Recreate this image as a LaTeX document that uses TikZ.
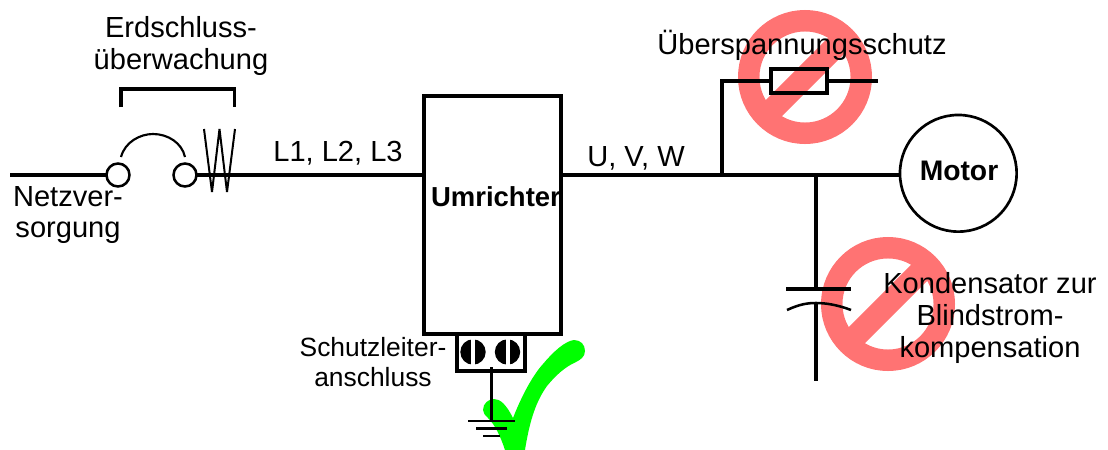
\documentclass[tikz,border=0pt]{standalone}
\usepackage{fontspec}
\setmainfont{Liberation Sans}
\definecolor{signred}{HTML}{FF7373}
\definecolor{okgreen}{HTML}{00FF00}
\tikzset{
  every node/.style={outer sep=0pt},
  wire/.style={line width=3pt,black},
  thinwire/.style={line width=1.5pt,black},
  lbl/.style={inner sep=0pt,align=center,text=black},
  terminal/.style={circle,draw,line width=1.9pt,minimum size=17.25pt,inner sep=0pt,fill=white},
  signring/.style={circle,draw=signred,line width=16.1pt,minimum size=84.4pt,inner sep=0pt},
  signbar/.style={draw=signred,line width=17pt},
  boxed/.style={draw,line width=3pt,inner sep=0pt},
}
\begin{document}
\begin{tikzpicture}[x=0.75pt,y=-0.75pt]
\useasboundingbox (0,0) rectangle (1108,450);
% prohibition signs
\node[signring] (sa) at (805,77) {};
\draw[signbar] (sa.225) -- (sa.45);
\node[signring] (sb) at (888,304) {};
\draw[signbar] (sb.225) -- (sb.45);
% check mark
\begin{scope}
\clip (0,0) rectangle (1108,450);
\fill[okgreen] (483,410) .. controls (483,403) and (489,399) .. (494,399)
  .. controls (500,399) and (506,404) .. (513,418)
  .. controls (522,395) and (533,375) .. (543,364)
  .. controls (553,352) and (565,341) .. (574,340)
  .. controls (581,340) and (585,345) .. (585,351)
  .. controls (585,357) and (580,360) .. (576,362)
  .. controls (565,367) and (556,375) .. (547,386)
  .. controls (537,400) and (530,418) .. (525,450)
  -- (505,450)
  .. controls (500,435) and (495,425) .. (488,418)
  .. controls (485,415) and (483,413) .. (483,410) -- cycle;
\end{scope}
% terminals and components
\coordinate (src) at (10,175);
\node[terminal] (ca) at (118,175) {};
\node[terminal] (cb) at (185,175) {};
\node[boxed,minimum width=102.75pt,minimum height=178.5pt,anchor=north west,fill=white] (inv) at (424,96) {};
\node[boxed,minimum width=51pt,minimum height=27.75pt,anchor=north west] (tb) at (457,334) {};
\node[boxed,minimum width=42pt,minimum height=17.5pt] (res) at (799,81) {};
\node[circle,draw,line width=2pt,minimum size=87.5pt,inner sep=0pt] (mot) at (958.3,173.3) {};
% main wiring
\draw[wire] (src) -- (ca);
\draw[wire] (cb) -- (cb -| inv.west);
\coordinate (ja) at (722,175);
\coordinate (jb) at (816,175);
\coordinate (topend) at (878,81);
\draw[wire] (inv.east |- ja) -- (ja) -- (jb) -- (mot.west |- jb);
\draw[line width=2.5pt] (ja) -- (ja |- res.west) -- (res.west);
\draw[line width=2.5pt] (res.east) -- (topend);
% capacitor
\coordinate (pa) at (816,289);
\coordinate (pb) at (816,303);
\coordinate (bot) at (816,381);
\coordinate (pal) at (786,289);
\coordinate (par) at (851,289);
\coordinate (arcl) at (787,310);
\coordinate (arcr) at (851,310);
\draw[line width=2.5pt] (jb) -- (pa);
\draw[line width=2.5pt] (pal) -- (par);
\draw[line width=2.5pt] (pb) -- (bot);
\draw[line width=1.9pt] (arcl) .. controls (800,304) and (808,303) .. (pb) .. controls (826,303) and (838,305) .. (arcr);
% monitor coil
\coordinate (za) at (204,129);
\coordinate (zb) at (212,192);
\coordinate (zc) at (219.5,129);
\coordinate (zd) at (227,192);
\coordinate (ze) at (235,129);
\draw[thinwire,line join=miter,miter limit=1] (za) -- (zb) -- (zc) -- (zd) -- (ze);
% contact arc
\coordinate (aa) at (121,157);
\coordinate (ab) at (185,157);
\draw[line width=1.6pt] (aa) .. controls (125,142) and (140,134) .. (153,134) .. controls (168,134) and (182,143) .. (ab);
% bracket
\coordinate (ba) at (121,107);
\coordinate (bb) at (121,89);
\coordinate (bc) at (234.5,89);
\coordinate (bd) at (234.5,107);
\draw[line width=2.5pt] (ba) -- (bb) -- (bc) -- (bd);
% screws
\foreach \x in {473,507.5}{
  \fill[black] (\x,352) circle[radius=12.7];
  \fill[white] (\x-2,338) rectangle (\x+2,366);
}
% earth
\coordinate (ea) at (491.5,367);
\coordinate (eb) at (491.5,421);
\coordinate (ga) at (468,421); \coordinate (gb) at (515,421);
\coordinate (gc) at (476,428.5); \coordinate (gd) at (507,428.5);
\coordinate (ge) at (483,436); \coordinate (gf) at (500,436);
\draw[line width=2pt] (ea) -- (eb);
\draw[line width=2pt] (ga) -- (gb) (gc) -- (gd) (ge) -- (gf);
% labels
\node[lbl,font=\fontsize{21.8}{24.6}\selectfont] (t1) at (181,46) {Erdschluss-\\überwachung};
\node[lbl,font=\fontsize{21.8}{23.5}\selectfont] (t2) at (68,215) {Netzver-\\sorgung};
\node[lbl,font=\fontsize{21.8}{24}\selectfont,anchor=base] (t3) at (338,161) {L1, L2, L3};
\node[lbl,font=\fontsize{21.8}{24}\selectfont,anchor=base] (t4) at (636,166) {U, V, W};
\node[lbl,font=\fontsize{21.8}{24}\selectfont,anchor=base] (t5) at (802,54) {Überspannungsschutz};
\node[lbl,font=\bfseries\fontsize{21.2}{24}\selectfont,anchor=base] (t6) at (959,180) {Motor};
\node[lbl,font=\bfseries\fontsize{20.6}{24}\selectfont,anchor=base] (t7) at (496,206) {Umrichter};
\node[lbl,font=\fontsize{19.8}{22}\selectfont] (t8) at (373,362) {Schutzleiter-\\anschluss};
\node[lbl,font=\fontsize{21.8}{23.7}\selectfont] (t9) at (990,318) {Kondensator zur\\Blindstrom-\\kompensation};
\end{tikzpicture}
\end{document}
